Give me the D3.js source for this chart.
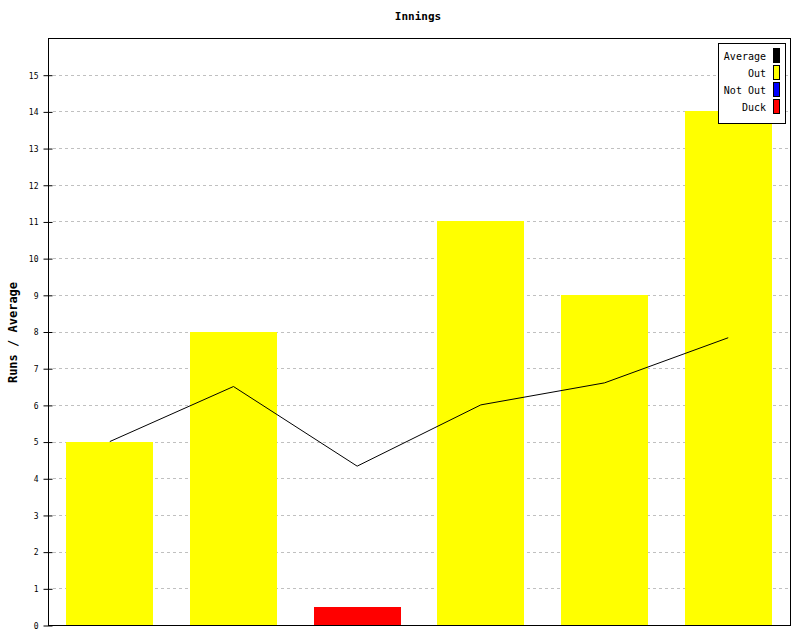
<!DOCTYPE html>
<html>
<head>
<meta charset="utf-8">
<script src="https://cdn.jsdelivr.net/npm/d3@7/dist/d3.min.js"></script>
<style>
  body { margin: 0; background: #fff; }
  svg { display: block; }
</style>
</head>
<body>
<svg id="chart" width="800" height="640"></svg>
<script>
const innings = ["1", "2", "3", "4", "5", "6"];
const runs = [5, 8, 0.5, 11, 9, 14];
const barTypes = ["Out", "Out", "Duck", "Out", "Out", "Out"];
const averages = [5, 6.5, 4.33, 6, 6.6, 7.83];
const yTicks = [0, 1, 2, 3, 4, 5, 6, 7, 8, 9, 10, 11, 12, 13, 14, 15];
const legendLabels = ["Average", "Out", "Not Out", "Duck"];
const legendColors = ["#000000", "#ffff00", "#0000ff", "#ff0000"];
const typeColors = { "Out": "#ffff00", "Not Out": "#0000ff", "Duck": "#ff0000" };

const svg = d3.select("#chart");
const pLeft = 48, pRight = 790, pTop = 38, pBottom = 625;
const font = "'DejaVu Sans Mono', monospace";

const x = d3.scaleBand().domain(innings).range([pLeft, pRight]).paddingInner(0.295).paddingOuter(0.147);
const y = d3.scaleLinear().domain([0, 16]).range([pBottom, pTop]);

// grid
svg.append("g").selectAll("line").data(yTicks.filter(d => d > 0)).join("line")
  .attr("x1", pLeft + 5).attr("x2", pRight)
  .attr("y1", d => Math.round(y(d)) + 0.5).attr("y2", d => Math.round(y(d)) + 0.5)
  .attr("stroke", "#c0c0c0").attr("stroke-dasharray", "3,3");

// bars
svg.append("g").selectAll("rect").data(runs).join("rect")
  .attr("x", (d, i) => Math.round(x(innings[i])))
  .attr("width", Math.round(x.bandwidth()))
  .attr("y", d => Math.round(y(d)))
  .attr("height", d => pBottom - Math.round(y(d)))
  .attr("fill", (d, i) => typeColors[barTypes[i]]);

// average line
const line = d3.line().x((d, i) => x(innings[i]) + x.bandwidth() / 2).y(d => y(d));
svg.append("path").datum(averages).attr("d", line)
  .attr("fill", "none").attr("stroke", "#000").attr("stroke-width", 1);

// frame
svg.append("rect").attr("x", pLeft + 0.5).attr("y", pTop + 0.5)
  .attr("width", pRight - pLeft).attr("height", pBottom - pTop)
  .attr("fill", "none").attr("stroke", "#000");

// y axis
const yAxis = d3.axisLeft(y).tickValues(yTicks).tickSize(0).tickPadding(10);
const ga = svg.append("g").attr("transform", `translate(${pLeft + 0.5},0.5)`).call(yAxis);
ga.select(".domain").remove();
ga.selectAll(".tick text").attr("font-family", font).attr("font-size", 8).attr("fill", "#000")
  .attr("dy", "0.35em");
ga.selectAll(".tick").append("line").attr("x1", -5).attr("x2", 4).attr("stroke", "#000");

// title
svg.append("text").attr("x", 418).attr("y", 20).attr("text-anchor", "middle")
  .attr("font-family", font).attr("font-size", 11).attr("font-weight", "bold").text("Innings");

// y label
svg.append("text").attr("transform", `translate(17,${(pTop + pBottom) / 2 + 1}) rotate(-90)`)
  .attr("text-anchor", "middle").attr("font-family", font).attr("font-size", 12)
  .attr("font-weight", "bold").text("Runs / Average");

// legend
const lg = svg.append("g");
lg.append("rect").attr("x", 718.5).attr("y", 43.5).attr("width", 67).attr("height", 80)
  .attr("fill", "#fff").attr("stroke", "#000");
const items = lg.selectAll("g.item").data(legendLabels).join("g").attr("class", "item")
  .attr("transform", (d, i) => `translate(0,${56 + i * 17})`);
items.append("text").attr("x", 766).attr("y", 0).attr("dy", "0.35em").attr("text-anchor", "end")
  .attr("font-family", font).attr("font-size", 10).text(d => d);
items.append("rect").attr("x", 773.5).attr("y", -7.5).attr("width", 6).attr("height", 14)
  .attr("fill", (d, i) => legendColors[i]).attr("stroke", "#000");
</script>
</body>
</html>
